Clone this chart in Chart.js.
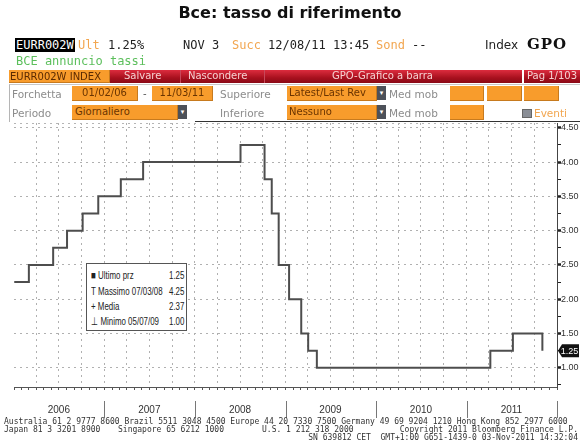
<!DOCTYPE html>
<html><head><meta charset="utf-8">
<script src="https://cdn.jsdelivr.net/npm/chart.js@4.4.0/dist/chart.umd.min.js"></script>
<style>
html,body{margin:0;padding:0;background:#fff;width:580px;height:443px;overflow:hidden;position:relative}
#c{position:absolute;left:0;top:0}
.a{position:absolute;white-space:pre;line-height:1}
.mono{font-family:'DejaVu Sans Mono',monospace;font-size:12px}
.sans{font-family:'DejaVu Sans',sans-serif;font-size:10px}
.or{color:#f2a650}
.gr{color:#8c8c8c}
.ob{position:absolute;background:#f89c2c;color:#6a3400;font-family:'DejaVu Sans',sans-serif;font-size:10px;line-height:14px;height:15px;box-sizing:border-box;border-bottom:1px solid #c77a1e;border-right:1px solid #c77a1e;white-space:pre;overflow:hidden}
.btn{position:absolute;background:#4d5159;width:9px;height:14px;color:#fff;font-size:7px;line-height:14px;text-align:center;font-family:'DejaVu Sans',sans-serif}
.red{position:absolute;top:70px;height:13px;background:linear-gradient(#dc2c3e,#a8101e 60%,#8a0a16);color:#f6d2d2;font-family:'DejaVu Sans',sans-serif;font-size:10px;line-height:12px;white-space:pre}
.leg{position:absolute;font-family:'Liberation Sans Narrow','Liberation Sans',sans-serif;font-size:11px;color:#222;line-height:1;white-space:pre;transform:scaleX(0.72);transform-origin:0 0}
.legv{position:absolute;font-family:'Liberation Sans Narrow','Liberation Sans',sans-serif;font-size:11px;color:#222;line-height:1;white-space:pre;transform:scaleX(0.72);transform-origin:100% 0;text-align:right}
.ft{position:absolute;font-family:'DejaVu Sans Mono',monospace;font-size:8px;color:#333;line-height:1;white-space:pre}
</style></head>
<body>
<canvas id="c" width="580" height="443"></canvas>

<div class="a" style="left:0;width:580px;top:5px;text-align:center;font-family:'DejaVu Sans',sans-serif;font-weight:bold;font-size:16px;color:#111">Bce: tasso di riferimento</div>

<div class="a mono" style="left:15px;top:38px;background:#000;color:#fff;padding:1px 1px">EURR002W</div>
<div class="a mono or" style="left:78px;top:39px">Ult</div>
<div class="a mono" style="left:108px;top:39px;color:#222">1.25%</div>
<div class="a mono" style="left:183px;top:39px;color:#222">NOV 3</div>
<div class="a mono or" style="left:232px;top:39px">Succ</div>
<div class="a mono" style="left:268px;top:39px;color:#222">12/08/11 13:45</div>
<div class="a mono or" style="left:376px;top:39px">Sond</div>
<div class="a mono" style="left:412px;top:39px;color:#222">--</div>
<div class="a" style="left:485px;top:39px;font-family:'DejaVu Sans',sans-serif;font-size:12px;color:#222">Index</div>
<div class="a" style="left:527px;top:37px;font-family:'DejaVu Serif',serif;font-weight:bold;font-size:15px;letter-spacing:1px;color:#111">GPO</div>
<div class="a mono" style="left:16px;top:55px;color:#5cbf5c">BCE annuncio tassi</div>

<div class="ob" style="left:9px;top:70px;width:101px;height:13px;line-height:13px;padding-left:1px;color:#5a2a00">EURR002W INDEX</div>
<div class="red" style="left:110px;width:412px"></div>
<div class="a" style="left:180px;top:70px;width:1px;height:13px;background:#c8485a"></div>
<div class="a" style="left:264px;top:70px;width:1px;height:13px;background:#c8485a"></div>
<div class="red" style="left:124px;background:none">Salvare</div>
<div class="red" style="left:188px;background:none">Nascondere</div>
<div class="red" style="left:332px;background:none">GPO-Grafico a barra</div>
<div class="red" style="left:524px;width:56px;padding-left:3px;box-sizing:border-box">Pag 1/103</div>

<div class="a" style="left:9px;top:84px;width:571px;height:37px;border-left:1px solid #b5b5b5;border-top:1px solid #c8c8c8"></div>
<div class="a" style="left:195px;top:121px;width:385px;height:1px;background:#333"></div>
<div class="a sans gr" style="left:12px;top:89px;font-size:10.5px">Forchetta</div>
<div class="ob" style="left:72px;top:86px;width:66px;text-align:center">01/02/06</div>
<div class="a sans" style="left:143px;top:89px;color:#555">-</div>
<div class="ob" style="left:152px;top:86px;width:61px;text-align:center">11/03/11</div>
<div class="a sans gr" style="left:220px;top:89px;font-size:10.5px">Superiore</div>
<div class="ob" style="left:287px;top:86px;width:90px;padding-left:2px">Latest/Last Rev</div>
<div class="btn" style="left:377px;top:86px">▾</div>
<div class="a sans gr" style="left:389px;top:89px;font-size:10.5px">Med mob</div>
<div class="ob" style="left:450px;top:86px;width:34px"></div>
<div class="ob" style="left:487px;top:86px;width:35px"></div>
<div class="ob" style="left:524px;top:86px;width:35px"></div>

<div class="a sans gr" style="left:12px;top:108px;font-size:10.5px">Periodo</div>
<div class="ob" style="left:72px;top:105px;width:106px;padding-left:3px">Giornaliero</div>
<div class="btn" style="left:178px;top:105px">▾</div>
<div class="a sans gr" style="left:220px;top:108px;font-size:10.5px">Inferiore</div>
<div class="ob" style="left:287px;top:105px;width:90px;padding-left:2px">Nessuno</div>
<div class="btn" style="left:377px;top:105px">▾</div>
<div class="a sans gr" style="left:389px;top:108px;font-size:10.5px">Med mob</div>
<div class="ob" style="left:450px;top:105px;width:34px"></div>
<div class="a" style="left:522px;top:109px;width:8px;height:7px;background:#8a8e96;border:1px solid #666"></div>
<div class="a sans or" style="left:534px;top:108px;font-size:10.5px">Eventi</div>

<div class="a" style="left:86px;top:263px;width:99px;height:66px;border:1.5px solid #555;background:#fff"></div>
<div class="leg" style="left:91px;top:270px">■ Ultimo prz</div>
<div class="legv" style="right:396px;top:270px">1.25</div>
<div class="leg" style="left:91px;top:286px">T Massimo 07/03/08</div>
<div class="legv" style="right:396px;top:286px">4.25</div>
<div class="leg" style="left:91px;top:301px">+ Media</div>
<div class="legv" style="right:396px;top:301px">2.37</div>
<div class="leg" style="left:91px;top:316px">⊥ Minimo 05/07/09</div>
<div class="legv" style="right:396px;top:316px">1.00</div>

<div class="ft" style="left:4px;top:418px">Australia 61 2 9777 8600 Brazil 5511 3048 4500 Europe 44 20 7330 7500 Germany 49 69 9204 1210 Hong Kong 852 2977 6000</div>
<div class="ft" style="left:4px;top:426px">Japan 81 3 3201 8900</div>
<div class="ft" style="left:118px;top:426px">Singapore 65 6212 1000</div>
<div class="ft" style="left:262px;top:426px">U.S. 1 212 318 2000</div>
<div class="ft" style="right:2px;top:426px">Copyright 2011 Bloomberg Finance L.P.</div>
<div class="ft" style="right:2px;top:434px">SN 639812 CET  GMT+1:00 G651-1439-0 03-Nov-2011 14:32:04</div>

<script>
// ---- data (ECB announcement dates and main refinancing rate) ----
const changeDates = ['2006-01-02','2006-03-02','2006-06-08','2006-08-03','2006-10-05','2006-12-07',
  '2007-03-08','2007-06-06','2008-07-03','2008-10-08','2008-11-06','2008-12-04',
  '2009-01-15','2009-03-05','2009-04-02','2009-05-07','2011-04-07','2011-07-07','2011-11-03'];
const rates = [2.25,2.50,2.75,3.00,3.25,3.50,3.75,4.00,4.25,3.75,3.25,2.50,2.00,1.50,1.25,1.00,1.25,1.50,1.25];
const yearLabels = ['2006','2007','2008','2009','2010','2011'];
const yTickValues = [0.75,1.00,1.25,1.50,1.75,2.00,2.25,2.50,2.75,3.00,3.25,3.50,3.75,4.00,4.25,4.50];
const lastPrice = '1.25';

const ORIGIN = Date.UTC(2006,0,1);
const dayOf = s => (Date.parse(s + 'T00:00:00Z') - ORIGIN) / 86400000;
const monthTicks = [];
yearLabels.forEach((yl) => { for (let m = 0; m < 12; m++) monthTicks.push((Date.UTC(+yl, m, 1) - ORIGIN) / 86400000); });
const endDay = (Date.UTC(+yearLabels[yearLabels.length-1] + 1, 0, 1) - ORIGIN) / 86400000;
monthTicks.push(endDay);
const yearStarts = yearLabels.map(yl => (Date.UTC(+yl + 1, 0, 1) - ORIGIN) / 86400000);

const NARROW = "'Liberation Sans Narrow','Liberation Sans',sans-serif";
const isMajor = v => Math.abs(v * 2 - Math.round(v * 2)) < 1e-6;

const deco = {
  id: 'deco',
  afterDraw(chart) {
    const {ctx, chartArea: a, scales: {x, y}} = chart;
    ctx.save();
    ctx.strokeStyle = '#b5b5b5'; ctx.lineWidth = 1; ctx.setLineDash([2,4]);
    ctx.beginPath(); ctx.moveTo(a.left, a.top + 0.5); ctx.lineTo(a.right, a.top + 0.5); ctx.stroke();
    ctx.setLineDash([]);
    ctx.strokeStyle = '#777';
    ctx.beginPath();
    yearStarts.forEach(d => { const px = Math.round(x.getPixelForValue(d)) + 0.5; ctx.moveTo(px, 401); ctx.lineTo(px, 418); });
    ctx.stroke();
    // last price tag
    const py = y.getPixelForValue(rates[rates.length - 1]);
    ctx.fillStyle = '#111';
    ctx.beginPath();
    ctx.moveTo(a.right + 1, py);
    ctx.lineTo(a.right + 5, py - 6.5);
    ctx.lineTo(579, py - 6.5);
    ctx.lineTo(579, py + 6.5);
    ctx.lineTo(a.right + 5, py + 6.5);
    ctx.closePath(); ctx.fill();
    ctx.fillStyle = '#fff';
    ctx.font = '9px ' + NARROW;
    ctx.textAlign = 'center'; ctx.textBaseline = 'middle';
    ctx.fillText(lastPrice, 569.5, py + 0.5);
    ctx.restore();
  }
};

new Chart(document.getElementById('c'), {
  type: 'line',
  data: {
    datasets: [{
      data: changeDates.map((d, i) => ({x: dayOf(d), y: rates[i]})),
      stepped: 'before',
      borderColor: '#4d4d4d',
      borderWidth: 2,
      pointRadius: 0,
      fill: false
    }]
  },
  options: {
    responsive: false,
    animation: false,
    events: [],
    layout: {padding: {left: 9.4, top: 123, right: 0, bottom: 26}},
    plugins: {legend: {display: false}, tooltip: {enabled: false}},
    scales: {
      x: {
        type: 'linear',
        min: 0, max: endDay,
        afterBuildTicks: s => { s.ticks = monthTicks.map(v => ({value: v})); },
        afterFit: s => { s.height = 30; },
        grid: {
          color: c => (c.index % 3 === 0 && c.index > 0) ? '#b0b0b0' : 'rgba(0,0,0,0)',
          lineWidth: 1,
          tickColor: '#555',
          tickLength: 3,
          tickWidth: 1
        },
        border: {display: true, color: '#555', width: 1, dash: [2,4]},
        ticks: {
          autoSkip: false, maxRotation: 0, minRotation: 0, padding: 14,
          color: '#333',
          font: {family: NARROW, size: 10},
          callback: (v, i) => (i % 12 === 6) ? yearLabels[Math.floor(i / 12)] : ''
        }
      },
      y: {
        position: 'right',
        min: 0.72, max: 4.57,
        afterBuildTicks: s => { s.ticks = yTickValues.map(v => ({value: v})); },
        afterFit: s => { s.width = 23; },
        grid: {
          color: c => (c.tick && isMajor(c.tick.value)) ? '#b0b0b0' : 'rgba(0,0,0,0)',
          lineWidth: 1,
          tickColor: '#222',
          tickLength: 4,
          tickWidth: c => (c.tick && isMajor(c.tick.value)) ? 2.5 : 1
        },
        border: {display: true, color: '#444', width: 1, dash: [2,4]},
        ticks: {
          padding: 0,
          color: '#333',
          font: {family: NARROW, size: 9},
          callback: v => isMajor(v) ? v.toFixed(2) : ''
        }
      }
    }
  },
  plugins: [deco]
});
</script>
</body></html>
